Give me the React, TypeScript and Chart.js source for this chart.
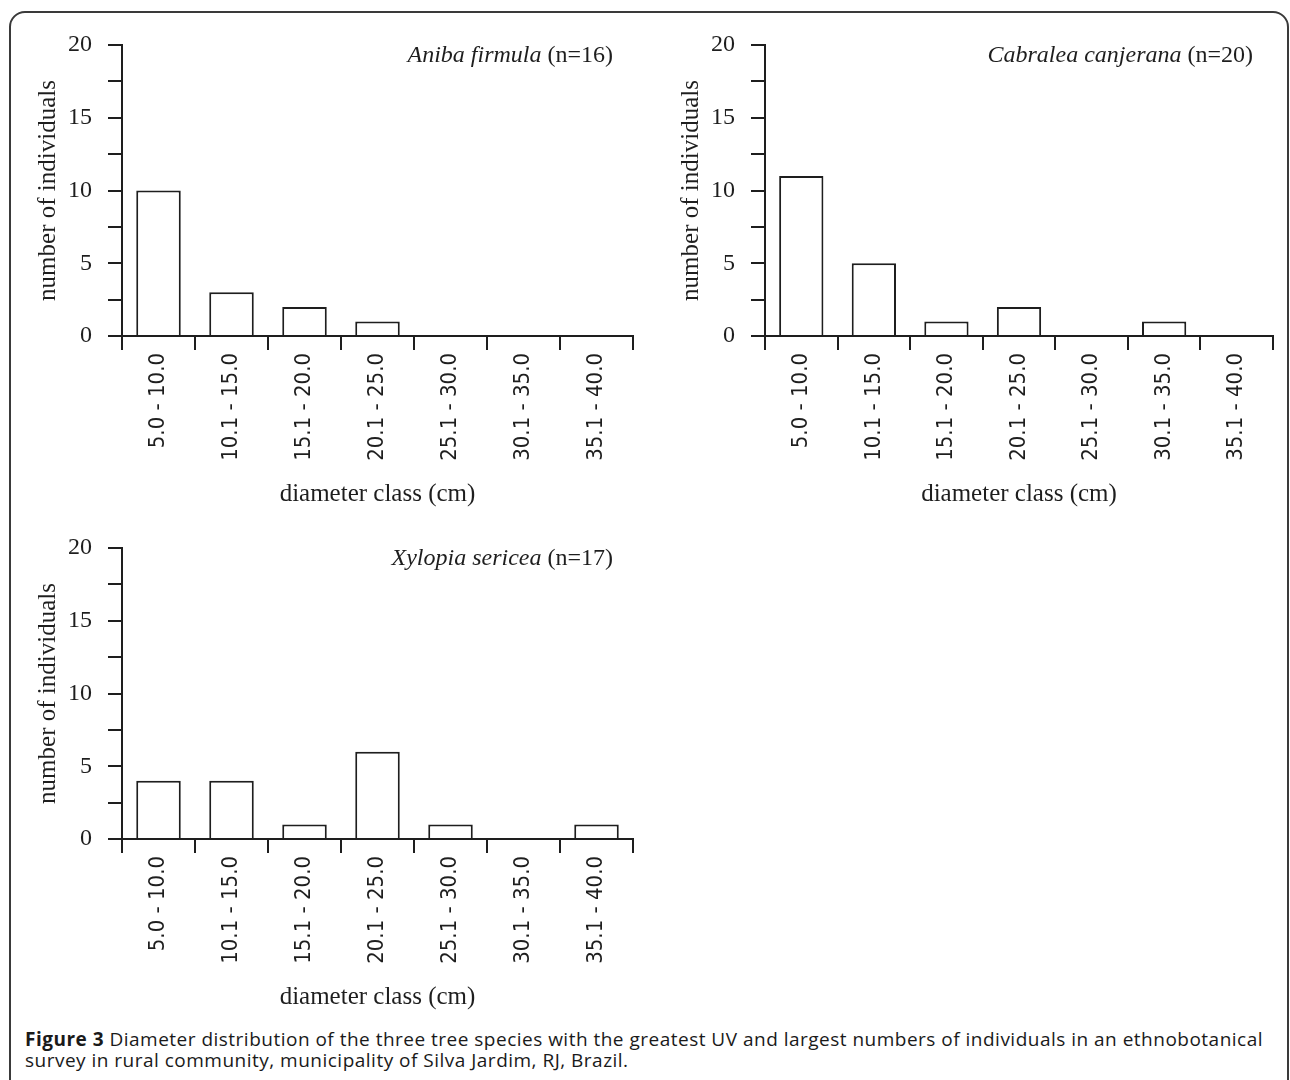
import React, { useEffect, useLayoutEffect, useRef } from 'react';
import { Chart, registerables } from 'chart.js';

Chart.register(...registerables);

// ---- data ----
const diameterClasses = [
  '5.0 - 10.0',
  '10.1 - 15.0',
  '15.1 - 20.0',
  '20.1 - 25.0',
  '25.1 - 30.0',
  '30.1 - 35.0',
  '35.1 - 40.0',
];
const anibaCounts = [10, 3, 2, 1, 0, 0, 0];
const cabraleaCounts = [11, 5, 1, 2, 0, 1, 0];
const xylopiaCounts = [4, 4, 1, 6, 1, 0, 1];
const yMin = 0;
const yMax = 20;
const yStep = 2.5;
const yLabelEvery = 5;

const xTitle = 'diameter class (cm)';
const yTitle = 'number of individuals';
const captionBold = 'Figure 3';
const captionLine1 = ' Diameter distribution of the three tree species with the greatest UV and largest numbers of individuals in an ethnobotanical';
const captionLine2 = 'survey in rural community, municipality of Silva Jardim, RJ, Brazil.';

// ---- styles ----
const INK = '#1e1e1e';
const SERIF = "'Liberation Serif', 'Times New Roman', serif";
const LABEL_SANS = "'DejaVu Sans Condensed', 'DejaVu Sans', sans-serif";
const CANVAS_W = 650;
const CANVAS_H = 512;
const CAPTION_LINE_WIDTH = 1238;

const speciesTitlePlugin = {
  id: 'speciesTitle',
  afterDraw(chart: any, _args: any, opts: any) {
    const { ctx, chartArea } = chart;
    const italicFont = `italic 24px ${SERIF}`;
    const normalFont = `24px ${SERIF}`;
    ctx.save();
    ctx.fillStyle = INK;
    ctx.textBaseline = 'alphabetic';
    ctx.textAlign = 'left';
    ctx.font = normalFont;
    const wRest = ctx.measureText(opts.rest).width;
    ctx.font = italicFont;
    const wItalic = ctx.measureText(opts.italic).width;
    const xEnd = chartArea.right - 20;
    const y = chartArea.top + 17;
    ctx.fillText(opts.italic, xEnd - wRest - wItalic, y);
    ctx.font = normalFont;
    ctx.fillText(opts.rest, xEnd - wRest, y);
    ctx.restore();
  },
};

type PanelProps = {
  left: number;
  top: number;
  counts: number[];
  italic: string;
  rest: string;
  padRight: number;
};

function Panel({ left, top, counts, italic, rest, padRight }: PanelProps) {
  const ref = useRef<HTMLCanvasElement>(null);
  useEffect(() => {
    const gridOpts = {
      drawOnChartArea: false,
      drawTicks: true,
      tickLength: 14,
      lineWidth: 2,
      color: INK,
    };
    const borderOpts = { display: true, width: 2, color: INK };
    const chart = new Chart(ref.current as HTMLCanvasElement, {
      type: 'bar',
      data: {
        labels: diameterClasses,
        datasets: [
          {
            data: counts,
            backgroundColor: '#ffffff',
            borderColor: INK,
            borderWidth: 2,
            barPercentage: 0.61,
            categoryPercentage: 1,
          },
        ],
      },
      options: {
        animation: false,
        responsive: false,
        devicePixelRatio: 1,
        events: [],
        layout: { padding: { left: 33, top: 45, right: padRight, bottom: 3 } },
        plugins: {
          legend: { display: false },
          tooltip: { enabled: false },
          speciesTitle: { italic, rest },
        } as any,
        scales: {
          x: {
            type: 'category',
            offset: true,
            grid: { ...gridOpts, offset: true },
            border: borderOpts,
            ticks: {
              autoSkip: false,
              minRotation: 90,
              maxRotation: 90,
              padding: 3,
              color: INK,
              font: { family: LABEL_SANS, size: 22 },
            },
            title: {
              display: true,
              text: xTitle,
              color: INK,
              padding: 0,
              font: { family: SERIF, size: 25, lineHeight: 1.2 },
            },
            afterFit: (s: any) => {
              s.height = 173;
            },
          },
          y: {
            min: yMin,
            max: yMax,
            grid: gridOpts,
            border: borderOpts,
            ticks: {
              stepSize: yStep,
              padding: 16,
              color: INK,
              font: { family: SERIF, size: 24 },
              callback: (v: any) => (Number(v) % yLabelEvery === 0 ? String(v) : ''),
            },
            title: {
              display: true,
              text: yTitle,
              color: INK,
              padding: 0,
              font: { family: SERIF, size: 25, lineHeight: 1.2 },
            },
            afterFit: (s: any) => {
              s.width = 89;
            },
          },
        } as any,
      },
      plugins: [speciesTitlePlugin],
    });
    return () => chart.destroy();
  }, []);
  return (
    <canvas
      ref={ref}
      width={CANVAS_W}
      height={CANVAS_H}
      style={{ position: 'absolute', left, top, width: CANVAS_W, height: CANVAS_H }}
    />
  );
}

function Caption() {
  const boxRef = useRef<HTMLDivElement>(null);
  const lineRef = useRef<HTMLSpanElement>(null);
  useLayoutEffect(() => {
    const box = boxRef.current;
    const line = lineRef.current;
    if (!box || !line) return;
    box.style.letterSpacing = '0px';
    const w = line.getBoundingClientRect().width;
    const n = (captionBold + captionLine1).length;
    const ls = (CAPTION_LINE_WIDTH - w) / n;
    box.style.letterSpacing = `${ls}px`;
  }, []);
  return (
    <div
      ref={boxRef}
      style={{
        position: 'absolute',
        left: 25,
        top: 1029,
        fontFamily: "'Open Sans', 'Noto Sans', sans-serif",
        fontSize: 19,
        lineHeight: '21px',
        color: '#1a1a1a',
        whiteSpace: 'nowrap',
      }}
    >
      <span ref={lineRef}>
        <b>{captionBold}</b>
        {captionLine1}
      </span>
      <br />
      <span>{captionLine2}</span>
    </div>
  );
}

export default function App() {
  return (
    <div
      style={{
        position: 'absolute',
        left: 0,
        top: 0,
        width: 1290,
        height: 1080,
        overflow: 'hidden',
        background: '#ffffff',
      }}
    >
      <div
        style={{
          position: 'absolute',
          left: 9,
          top: 11,
          width: 1276,
          height: 1120,
          border: '2px solid #3a3a3a',
          borderRadius: 16,
          boxSizing: 'content-box',
        }}
      />
      <Panel left={0} top={0} counts={anibaCounts} italic="Aniba firmula" rest=" (n=16)" padRight={17} />
      <Panel left={643} top={0} counts={cabraleaCounts} italic="Cabralea canjerana" rest=" (n=20)" padRight={20} />
      <Panel left={0} top={503} counts={xylopiaCounts} italic="Xylopia sericea" rest=" (n=17)" padRight={17} />
      <Caption />
    </div>
  );
}
